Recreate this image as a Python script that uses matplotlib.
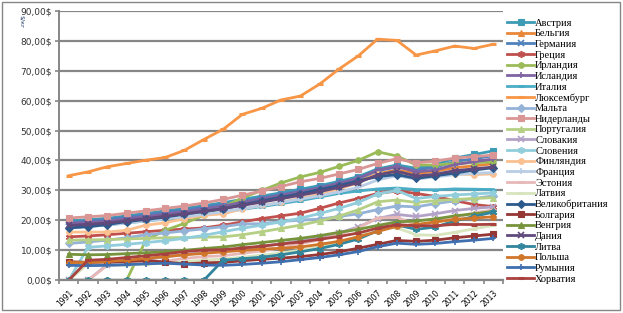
import matplotlib
matplotlib.use("Agg")
import matplotlib.pyplot as plt
from matplotlib.patches import Rectangle
from matplotlib.ticker import FuncFormatter, FixedLocator

years = [str(y) for y in range(1991, 2014)]

austria = [19.8, 20.2, 20.7, 21.5, 22.3, 23.2, 24.0, 24.9, 25.9, 27.0, 28.1, 29.2, 30.4, 31.6, 33.0, 34.6, 37.2, 38.5, 37.4, 38.5, 40.8, 42.0, 43.2]
belgium = [18.6, 19.1, 19.6, 20.4, 21.1, 21.9, 22.7, 23.5, 24.4, 25.5, 26.6, 27.7, 28.9, 30.1, 31.5, 33.0, 35.6, 36.8, 35.6, 36.4, 37.6, 38.2, 38.9]
germany = [19.3, 19.8, 20.3, 21.1, 21.9, 22.7, 23.5, 24.4, 25.3, 26.4, 27.5, 28.6, 29.8, 31.0, 32.4, 34.0, 36.6, 37.8, 36.8, 37.8, 39.6, 40.6, 41.6]
greece = [14.5, 14.8, 15.2, 15.7, 16.2, 16.7, 17.1, 17.5, 18.4, 19.5, 20.6, 21.5, 22.4, 24.0, 25.8, 27.3, 29.0, 29.8, 29.0, 28.0, 26.6, 25.3, 24.6]
ireland = [0, 0, 0, 0, 13.4, 16.7, 19.0, 21.7, 24.5, 27.5, 30.0, 32.5, 34.5, 36.0, 38.0, 40.0, 42.9, 41.5, 38.5, 38.5, 39.0, 39.3, 39.5]
iceland = [19.0, 19.3, 19.7, 20.5, 21.3, 22.1, 22.9, 23.8, 24.8, 26.0, 27.2, 28.4, 29.6, 30.8, 32.4, 34.0, 36.8, 38.0, 36.2, 36.8, 38.6, 39.6, 40.5]
italy = [17.5, 18.0, 18.5, 19.2, 19.8, 20.5, 21.2, 22.0, 22.8, 23.7, 24.6, 25.6, 26.6, 27.8, 29.0, 29.8, 30.5, 30.8, 30.3, 30.2, 30.5, 30.4, 30.3]
luxembourg = [34.9, 36.2, 37.9, 39.0, 40.1, 41.0, 43.4, 47.0, 50.4, 55.4, 57.4, 60.2, 61.5, 65.5, 70.5, 74.9, 80.5, 80.1, 75.2, 76.6, 78.2, 77.4, 78.8]
malta = [12.3, 12.8, 13.4, 14.2, 15.2, 15.8, 16.5, 17.2, 17.9, 18.8, 18.9, 19.6, 20.1, 20.4, 21.3, 22.2, 23.6, 24.8, 24.5, 25.6, 26.5, 27.3, 28.2]
netherlands = [20.8, 21.2, 21.6, 22.4, 23.2, 24.0, 24.8, 25.8, 27.0, 28.4, 29.8, 31.3, 32.9, 34.0, 35.5, 37.0, 39.0, 40.6, 39.2, 39.8, 40.8, 41.3, 41.8]
portugal = [13.4, 13.5, 13.6, 13.8, 14.0, 14.2, 14.3, 14.4, 14.5, 15.2, 16.2, 17.3, 18.4, 19.8, 21.4, 23.5, 26.2, 26.8, 26.0, 26.6, 27.0, 27.3, 27.6]
slovakia = [0, 0, 5.2, 6.0, 7.0, 7.8, 8.6, 9.3, 9.8, 10.5, 11.3, 12.2, 13.2, 14.3, 15.8, 17.8, 20.6, 22.0, 21.3, 22.2, 23.3, 24.0, 24.5]
slovenia = [0, 11.0, 11.5, 12.0, 12.6, 13.2, 14.0, 15.0, 16.2, 17.4, 18.4, 19.5, 20.7, 22.3, 24.0, 26.0, 28.8, 30.0, 27.3, 28.0, 28.5, 28.8, 29.2]
finland = [16.1, 16.1, 16.1, 16.7, 18.4, 19.2, 20.6, 21.7, 22.2, 23.8, 25.0, 26.0, 27.4, 28.8, 30.5, 32.5, 35.5, 36.0, 34.5, 34.8, 35.5, 35.3, 35.5]
france = [17.6, 18.0, 18.4, 19.1, 19.8, 20.5, 21.2, 22.0, 22.9, 23.9, 24.9, 26.0, 27.1, 28.2, 29.5, 31.0, 33.5, 34.9, 33.8, 34.5, 35.3, 35.7, 36.0]
estonia = [0, 0, 5.0, 5.3, 5.8, 6.4, 7.3, 7.9, 8.2, 9.0, 9.8, 10.8, 12.2, 13.5, 15.3, 17.5, 20.8, 21.0, 18.6, 19.2, 21.0, 22.5, 23.5]
latvia = [0, 5.5, 5.0, 5.1, 5.4, 5.7, 6.2, 6.7, 7.1, 7.7, 8.4, 9.1, 10.0, 11.1, 12.6, 14.6, 18.4, 17.5, 15.2, 15.0, 16.0, 17.2, 18.3]
uk = [17.5, 17.9, 18.6, 19.6, 20.3, 21.1, 22.1, 23.0, 23.9, 25.2, 26.5, 27.7, 28.9, 30.3, 31.6, 33.2, 34.6, 35.3, 34.0, 34.9, 35.8, 36.8, 37.6]
bulgaria = [6.2, 6.0, 6.1, 6.3, 6.6, 6.1, 5.5, 5.8, 6.0, 6.5, 7.0, 7.4, 7.9, 8.6, 9.5, 10.7, 12.0, 13.3, 13.0, 13.4, 14.2, 14.8, 15.4]
hungary = [8.7, 8.5, 8.6, 8.9, 9.2, 9.5, 10.0, 10.6, 11.1, 11.9, 12.6, 13.3, 14.0, 14.9, 16.0, 17.0, 18.3, 19.5, 19.8, 20.5, 21.5, 22.2, 23.0]
denmark = [18.3, 18.7, 19.1, 19.9, 20.6, 21.4, 22.2, 23.0, 23.9, 25.0, 26.1, 27.2, 28.4, 29.6, 31.0, 32.6, 35.2, 36.4, 34.8, 35.4, 36.6, 37.2, 37.8]
lithuania = [0, 0, 0, 0, 0, 0, 0, 0, 6.7, 7.2, 7.7, 8.5, 9.5, 10.6, 12.0, 13.8, 16.5, 18.5, 17.0, 17.8, 19.8, 21.3, 22.8]
poland = [5.9, 6.0, 6.3, 6.7, 7.3, 7.9, 8.5, 9.0, 9.5, 10.0, 10.4, 10.7, 11.1, 12.0, 13.0, 14.5, 16.3, 18.0, 18.6, 19.5, 20.3, 20.8, 21.2]
romania = [5.0, 4.9, 5.0, 5.2, 5.5, 5.7, 5.4, 5.1, 5.0, 5.3, 5.7, 6.2, 6.9, 7.6, 8.5, 9.6, 11.2, 12.4, 12.0, 12.3, 12.9, 13.4, 14.0]
croatia = [0, 6.7, 7.0, 7.6, 8.2, 8.8, 9.6, 10.1, 10.2, 10.8, 11.4, 12.1, 12.8, 13.7, 14.6, 15.8, 17.4, 18.6, 18.2, 18.2, 18.7, 18.6, 18.7]

series_names = ["Австрия", "Бельгия", "Германия", "Греция", "Ирландия", "Исландия",
                "Италия", "Люксембург", "Мальта", "Нидерланды", "Португалия", "Словакия",
                "Словения", "Финляндия", "Франция", "Эстония", "Латвия", "Великобритания",
                "Болгария", "Венгрия", "Дания", "Литва", "Польша", "Румыния", "Хорватия"]
series_values = [austria, belgium, germany, greece, ireland, iceland, italy, luxembourg,
                 malta, netherlands, portugal, slovakia, slovenia, finland, france,
                 estonia, latvia, uk, bulgaria, hungary, denmark, lithuania, poland,
                 romania, croatia]

ASTER = (6, 2, 0)
styles = [
    ("#3D9BB5", "s"), ("#E8873A", "^"), ("#4F81BD", "x"), ("#C0504D", ASTER),
    ("#9BBB59", "o"), ("#8064A2", "+"), ("#4BACC6", "_"), ("#F79646", "_"),
    ("#95B3D7", "D"), ("#D99694", "s"), ("#B5CF85", "^"), ("#B3A2C7", "x"),
    ("#92CDDC", ASTER), ("#FAC090", "o"), ("#B9CDE5", "+"), ("#E6B9B8", "_"),
    ("#D7E4BD", "_"), ("#2C5A8C", "D"), ("#953735", "s"), ("#77933C", "^"),
    ("#604A7B", "x"), ("#31859C", ASTER), ("#D0762A", "o"), ("#3F6FAE", "+"),
    ("#A8423F", "_"),
]

fig = plt.figure(figsize=(6.23, 3.13), dpi=100)
ax = fig.add_axes([59 / 623, 1 - 280.3 / 313, (503 - 59) / 623, (280.3 - 10.7) / 313])

x = list(range(len(years)))
for name, vals, (col, mk) in zip(series_names, series_values, styles):
    ms, mew = 4.0, 0.8
    if mk == "_":
        ms, mew = 5.0, 2.2
    elif mk in ("x", "+") or mk == ASTER:
        ms, mew = 5.0, 1.2
    elif mk == "D":
        ms = 3.8
    ax.plot(x, vals, color=col, lw=2.0, marker=mk, markersize=ms,
            markeredgewidth=mew, markerfacecolor=col, markeredgecolor=col,
            label=name, solid_joinstyle="round")

ax.set_xlim(-0.5, len(years) - 0.5)
ax.set_ylim(0, 90)
ax.set_yticks(range(0, 91, 10))
ax.yaxis.set_major_formatter(FuncFormatter(lambda v, p: f"{v:.2f}".replace(".", ",") + "$"))
ax.yaxis.grid(True, color="#868686", lw=1.6)
ax.set_axisbelow(True)

ax.set_xticks(x)
ax.set_xticklabels(years, rotation=45, ha="right", rotation_mode="anchor",
                   fontsize=5.5, fontfamily="DejaVu Sans")
ax.xaxis.set_minor_locator(FixedLocator([i - 0.5 for i in range(len(years) + 1)]))
ax.tick_params(axis="x", which="major", length=0, pad=6)
ax.tick_params(axis="x", which="minor", length=3, color="#868686", width=1.2)
ax.tick_params(axis="y", length=3, color="#868686", width=1.2, labelsize=6.5, pad=2)
for t in ax.get_yticklabels():
    t.set_color("#333333")

for s in ("top", "right"):
    ax.spines[s].set_visible(False)
ax.spines["left"].set_color("#868686")
ax.spines["left"].set_linewidth(1.4)
ax.spines["bottom"].set_color("#868686")
ax.spines["bottom"].set_linewidth(1.6)

ax.text(-0.085, 0.985, "$/кг", transform=ax.transAxes, rotation=270,
        fontsize=4.5, color="#1F3864", va="top", ha="center")

leg = ax.legend(loc="upper left", bbox_to_anchor=(507 / 623, 1 - 18.5 / 313),
                bbox_transform=fig.transFigure, frameon=False,
                prop={"family": "Liberation Serif", "size": 7.5},
                handlelength=2.6, handletextpad=0.1, labelspacing=0.13,
                borderaxespad=0, borderpad=0)

fig.patches.append(Rectangle((2 / 623, 3 / 313), 618 / 623, 308 / 313,
                             transform=fig.transFigure, fill=False,
                             edgecolor="#868686", lw=1.0))

fig.savefig("out.png", dpi=100)
